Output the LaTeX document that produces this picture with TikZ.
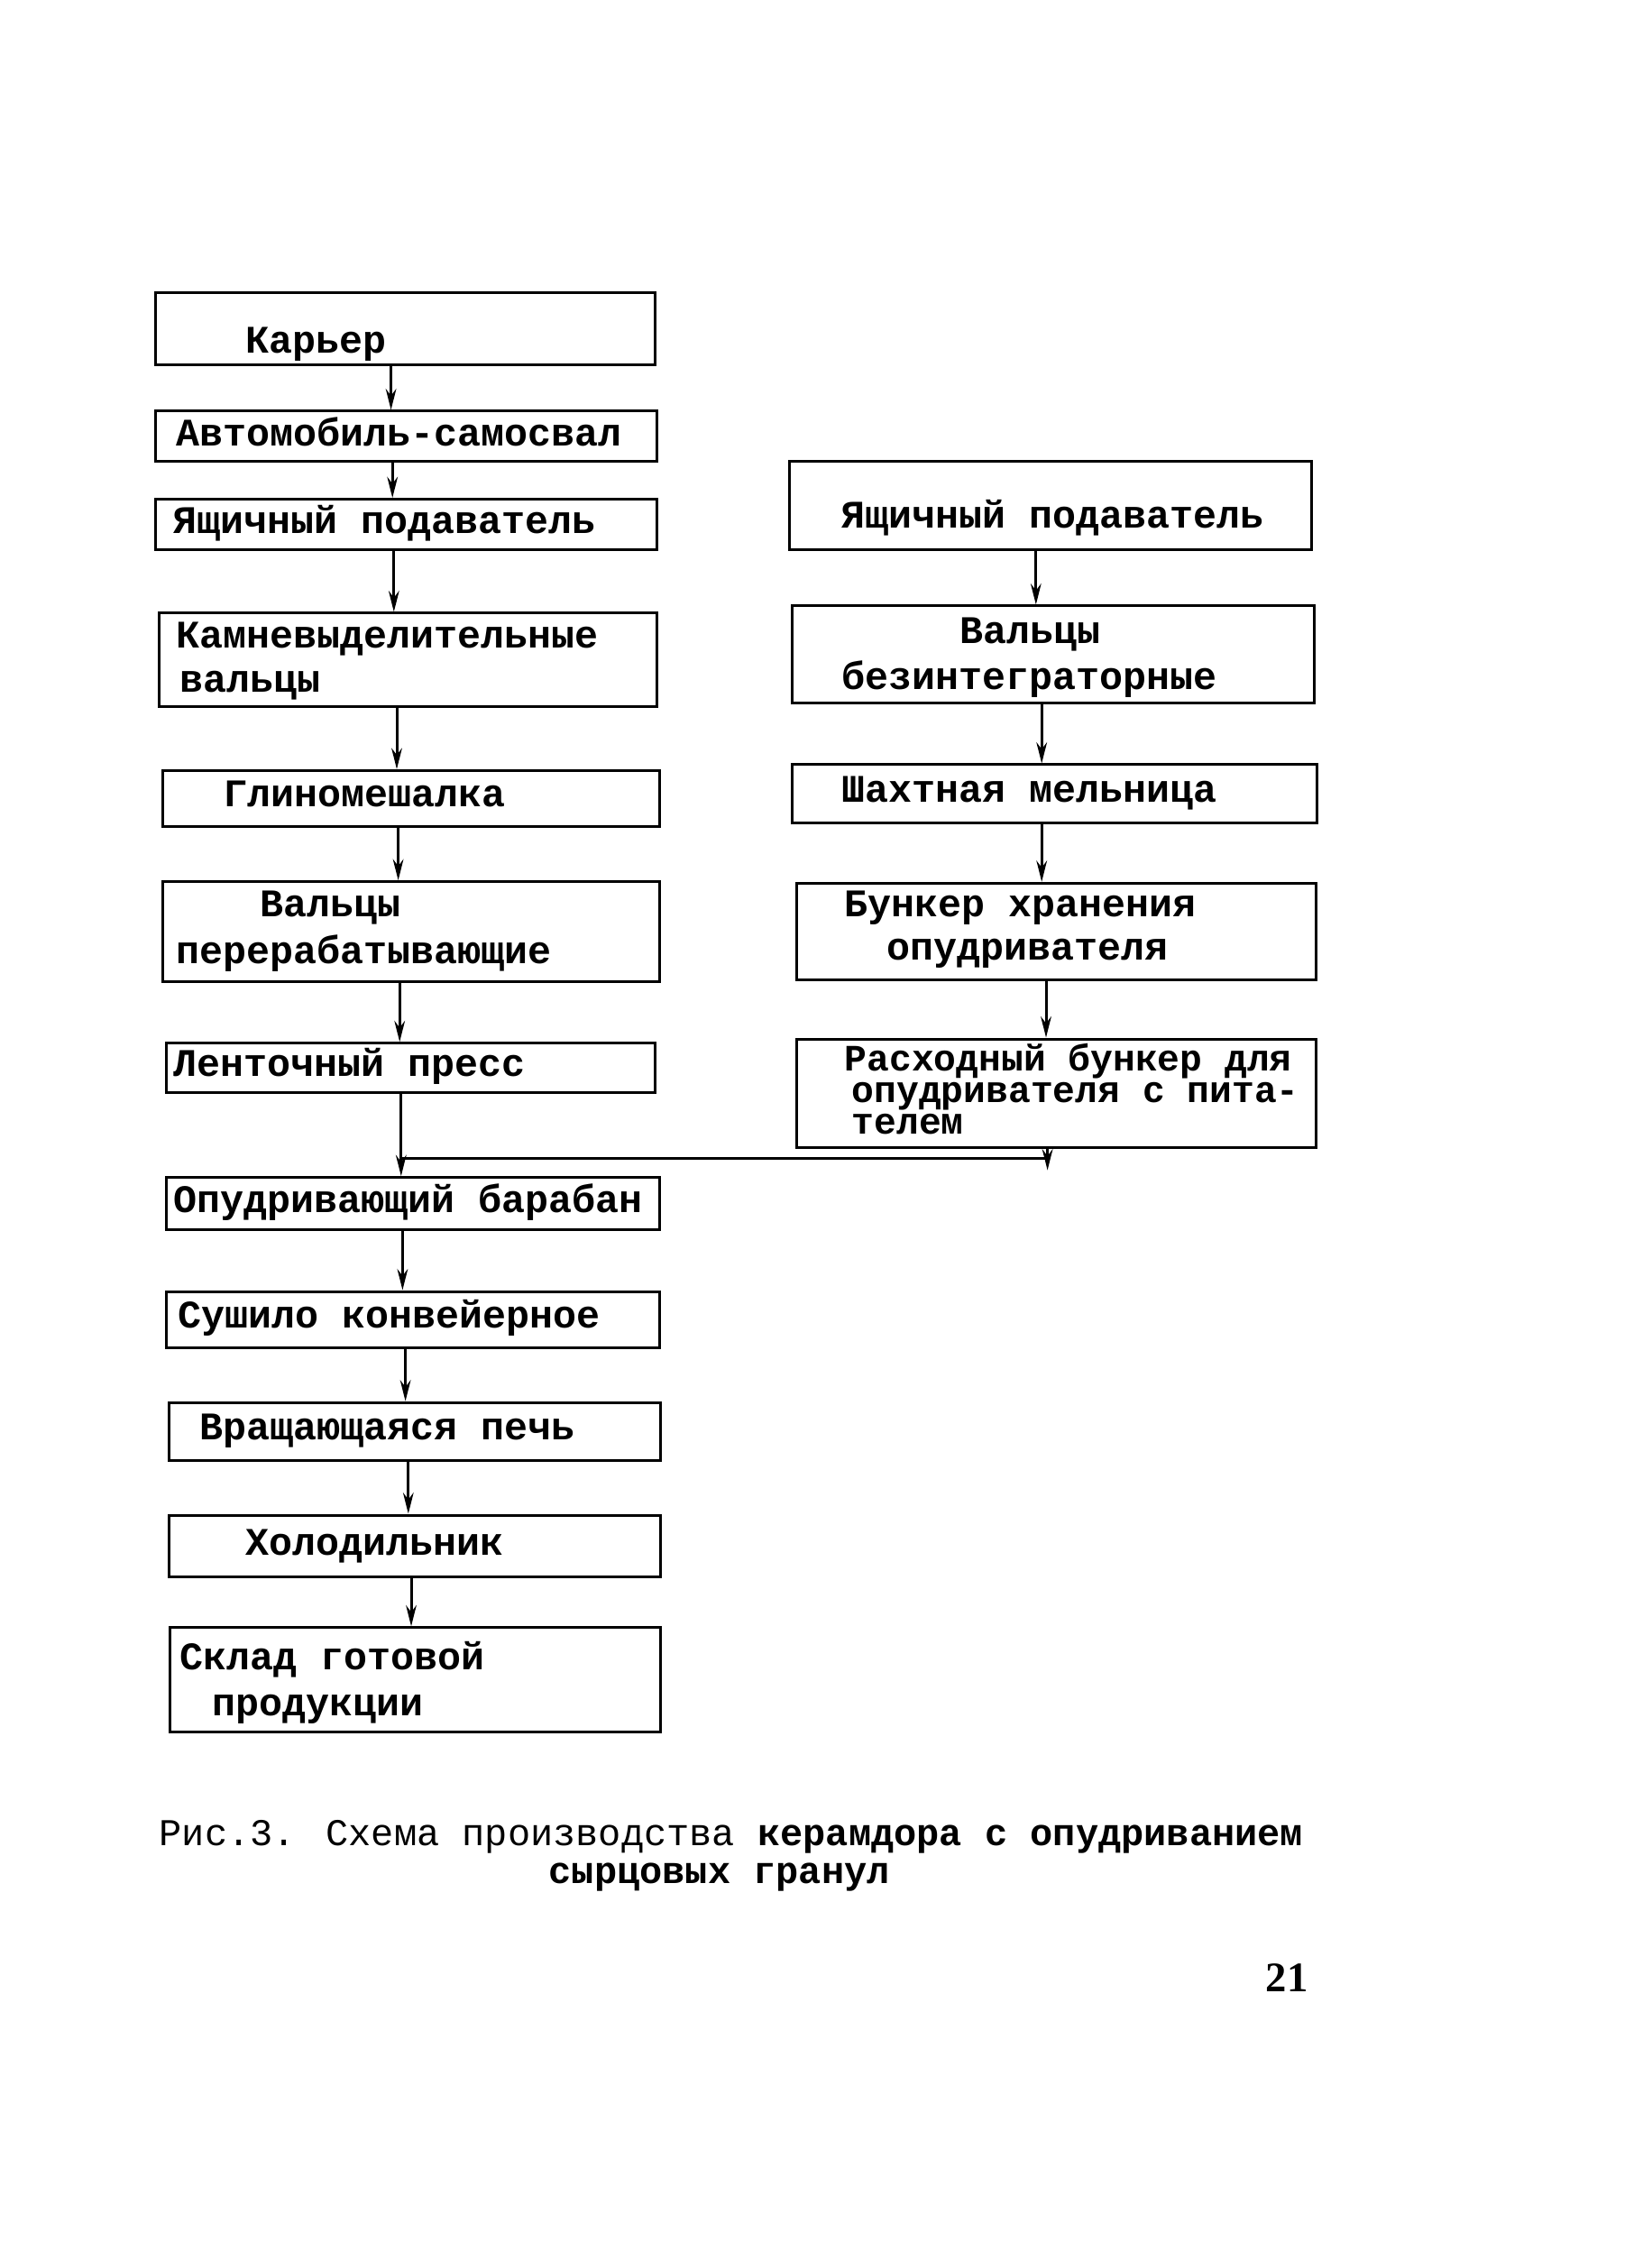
\documentclass[tikz,border=0pt]{standalone}
\usepackage{fontspec}
\newfontfamily\boxfont{Liberation Mono}
\newfontfamily\numfont{Liberation Serif}
\usetikzlibrary{arrows.meta,fit}
\begin{document}
\begin{tikzpicture}[x=0.48pt,y=-0.48pt,
 box/.style={draw, line width=0.9pt, inner sep=0pt},
 txt/.style={anchor=base west, inner sep=0pt, font=\boxfont\bfseries\fontsize{13}{15}\selectfont},
 smalltxt/.style={anchor=base west, inner sep=0pt, font=\boxfont\bfseries\fontsize{12.4}{14}\selectfont},
 captxt/.style={anchor=base west, inner sep=0pt, font=\boxfont\fontsize{12.6}{15}\selectfont},
 arr/.style={line width=0.9pt, -{Stealth[length=7pt,width=3.5pt]}},
 ln/.style={line width=0.9pt}]
\fill[white] (0,0) rectangle (1144.4,1566.25);
\useasboundingbox (0,0) rectangle (1144.4,1566.25);
% left column boxes
\node[box, fit={(108,203) (454,253)}] (b1) {};
\node[box, fit={(108,285) (455,320)}] (b2) {};
\node[box, fit={(108,346) (455,381)}] (b3) {};
\node[box, fit={(110,425) (455,490)}] (b4) {};
\node[box, fit={(113,534) (457,573)}] (b5) {};
\node[box, fit={(113,611) (457,680)}] (b6) {};
\node[box, fit={(115,723) (454,757)}] (b7) {};
\node[box, fit={(115,816) (457,852)}] (b8) {};
\node[box, fit={(115,895) (457,934)}] (b9) {};
\node[box, fit={(117,972) (458,1012)}] (b10) {};
\node[box, fit={(117,1050) (458,1093)}] (b11) {};
\node[box, fit={(118,1128) (458,1200)}] (b12) {};
% right column boxes
\node[box, fit={(547,320) (909,381)}] (r1) {};
\node[box, fit={(549,420) (911,487)}] (r2) {};
\node[box, fit={(549,530) (913,570)}] (r3) {};
\node[box, fit={(552,612) (912,679)}] (r4) {};
\node[box, fit={(552,720) (912,795)}] (r5) {};
% texts
\node[txt] (t1) at (170,245) {Карьер};
\node[txt] (t2) at (122,309) {Автомобиль-самосвал};
\node[txt] (t3) at (120,370) {Ящичный подаватель};
\node[txt] (t4a) at (122,449) {Камневыделительные};
\node[txt] (t4b) at (124,480) {вальцы};
\node[txt] (t5) at (155,559) {Глиномешалка};
\node[txt] (t6a) at (180,635) {Вальцы};
\node[txt] (t6b) at (122,668) {перерабатывающие};
\node[txt] (t7) at (120,746) {Ленточный пресс};
\node[txt] (t8) at (120,840) {Опудривающий барабан};
\node[txt] (t9) at (123,920) {Сушило конвейерное};
\node[txt] (t10) at (138,998) {Вращающаяся печь};
\node[txt] (t11) at (170,1078) {Холодильник};
\node[txt] (t12a) at (124,1157) {Склад готовой};
\node[txt] (t12b) at (147,1189) {продукции};
\node[txt] (s1) at (583,366) {Ящичный подаватель};
\node[txt] (s2a) at (665,446) {Вальцы};
\node[txt] (s2b) at (583,478) {безинтеграторные};
\node[txt] (s3) at (583,556) {Шахтная мельница};
\node[txt] (s4a) at (585,635) {Бункер хранения};
\node[txt] (s4b) at (614,665) {опудривателя};
\node[smalltxt] (s5a) at (585,742) {Расходный бункер для};
\node[smalltxt] (s5b) at (590,764) {опудривателя с пита-};
\node[smalltxt] (s5c) at (590,786) {телем};
% caption
\node[captxt] (c1) at (110,1279) {Рис.3. Схема производства \textbf{керамдора с опудриванием}};
\node[captxt, font=\boxfont\bfseries\fontsize{12.6}{15}\selectfont] (c2) at (380,1305) {сырцовых гранул};
\node[anchor=base west, inner sep=0pt, font=\numfont\bfseries\fontsize{14}{16}\selectfont] (pg) at (877,1380) {21};
% connectors left
\draw[arr] (b1.south -| 271,0) -- (b2.north -| 271,0);
\draw[arr] (b2.south -| 272,0) -- (b3.north -| 272,0);
\draw[arr] (b3.south -| 273,0) -- (b4.north -| 273,0);
\draw[arr] (b4.south -| 275,0) -- (b5.north -| 275,0);
\draw[arr] (b5.south -| 276,0) -- (b6.north -| 276,0);
\draw[arr] (b6.south -| 277,0) -- (b7.north -| 277,0);
\draw[arr] (b7.south -| 278,0) -- (b8.north -| 278,0);
\draw[arr] (b8.south -| 279,0) -- (b9.north -| 279,0);
\draw[arr] (b9.south -| 281,0) -- (b10.north -| 281,0);
\draw[arr] (b10.south -| 283,0) -- (b11.north -| 283,0);
\draw[arr] (b11.south -| 285,0) -- (b12.north -| 285,0);
% connectors right
\draw[arr] (r1.south -| 718,0) -- (r2.north -| 718,0);
\draw[arr] (r2.south -| 722,0) -- (r3.north -| 722,0);
\draw[arr] (r3.south -| 722,0) -- (r4.north -| 722,0);
\draw[arr] (r4.south -| 725,0) -- (r5.north -| 725,0);
\coordinate (e1) at (726,811);
\coordinate (j1) at (726,803);
\coordinate (j2) at (278,803);
\draw[arr] (r5.south -| e1) -- (e1);
\draw[ln] (j1) -- (j2);
\end{tikzpicture}
\end{document}
